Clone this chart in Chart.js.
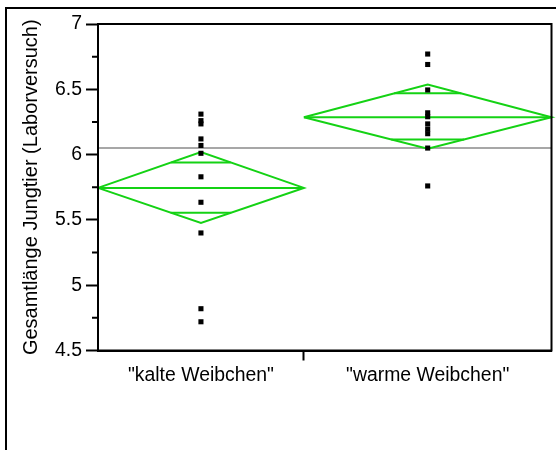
<!DOCTYPE html>
<html>
<head>
<meta charset="utf-8">
<script src="https://cdn.jsdelivr.net/npm/chart.js@4"></script>
<style>
  html, body { margin: 0; padding: 0; background: #fff; overflow: hidden; }
  .frame { position: absolute; left: 5px; top: 7px; width: 549px; height: 441px; border-top: 2px solid #000; border-left: 2px solid #000; }
  .wrap { position: absolute; left: 0; top: 0; width: 556px; height: 450px; }
</style>
</head>
<body>
<div class="frame"></div>
<div class="wrap"><canvas id="oneway-chart"></canvas></div>
<script>
const groups = ['"kalte Weibchen"', '"warme Weibchen"'];
const groupWidths = [0.454, 0.546];
const kalteValues = [6.31, 6.26, 6.235, 6.12, 6.07, 6.01, 5.83, 5.635, 5.40, 4.82, 4.72];
const warmeValues = [6.77, 6.69, 6.495, 6.32, 6.29, 6.235, 6.195, 6.16, 6.05, 5.76];
const groupMeans = [5.745, 6.286];
const ciUpper = [6.019, 6.537];
const ciLower = [5.476, 6.045];
const overlapUpper = [5.94, 6.469];
const overlapLower = [5.555, 6.116];
const grandMean = 6.05;
const yTicks = [4.5, 5, 5.5, 6, 6.5, 7];
const yMinorTicks = [4.75, 5.25, 5.75, 6.25, 6.75];

const green = '#14d214';
Chart.defaults.font.family = '"Liberation Sans", Arial, sans-serif';
Chart.defaults.font.size = 19.4;
Chart.defaults.color = '#000';

// group bounds on a 0..1 x scale
const starts = groupWidths.map((w, i) => groupWidths.slice(0, i).reduce((a, b) => a + b, 0));
const centers = starts.map((s, i) => s + groupWidths[i] / 2);

const datasets = [];
datasets.push({
  data: [{ x: 0, y: grandMean }, { x: 1, y: grandMean }],
  borderColor: '#8a8a8a', borderWidth: 1.5, order: 3,
});
[kalteValues, warmeValues].forEach((vals, i) => {
  const x0 = starts[i], x1 = starts[i] + groupWidths[i], xc = centers[i], half = groupWidths[i] / 2;
  const m = groupMeans[i];
  datasets.push({
    data: [{ x: x0, y: m }, { x: xc, y: ciUpper[i] }, { x: x1, y: m }, { x: xc, y: ciLower[i] }, { x: x0, y: m }],
    borderColor: green, borderWidth: 2, order: 2,
  });
  datasets.push({ data: [{ x: x0, y: m }, { x: x1, y: m }], borderColor: green, borderWidth: 2, order: 2 });
  const du = half * (ciUpper[i] - overlapUpper[i]) / (ciUpper[i] - m);
  const dl = half * (overlapLower[i] - ciLower[i]) / (m - ciLower[i]);
  datasets.push({ data: [{ x: xc - du, y: overlapUpper[i] }, { x: xc + du, y: overlapUpper[i] }], borderColor: green, borderWidth: 2, order: 2 });
  datasets.push({ data: [{ x: xc - dl, y: overlapLower[i] }, { x: xc + dl, y: overlapLower[i] }], borderColor: green, borderWidth: 2, order: 2 });
  datasets.push({
    data: vals.map(v => ({ x: xc, y: v })),
    showLine: false, pointStyle: 'rect', pointRadius: 3.6, pointBorderWidth: 0,
    pointBackgroundColor: '#000', order: 1,
  });
});
datasets.forEach(d => {
  if (d.showLine !== false) { d.showLine = true; d.pointRadius = 0; d.fill = false; }
  d.clip = false;
});

const plotBox = {
  id: 'plotBox',
  afterDraw(chart) {
    const { ctx, chartArea: a, scales: { y } } = chart;
    ctx.save();
    ctx.strokeStyle = '#000';
    ctx.lineWidth = 2;
    ctx.strokeRect(a.left, a.top, a.right - a.left, a.bottom - a.top);
    ctx.beginPath();
    yMinorTicks.forEach(v => {
      const py = y.getPixelForValue(v);
      ctx.moveTo(a.left - 6, py);
      ctx.lineTo(a.left, py);
    });
    ctx.stroke();
    ctx.restore();
  },
};

const xLabels = [groups[0], '', groups[1]];

new Chart(document.getElementById('oneway-chart'), {
  type: 'scatter',
  data: { datasets },
  plugins: [plotBox],
  options: {
    maintainAspectRatio: false,
    animation: false,
    layout: { padding: { top: 24, right: 4.5, left: 0, bottom: 0 } },
    plugins: { legend: { display: false }, tooltip: { enabled: false } },
    scales: {
      x: {
        type: 'linear', min: 0, max: 1,
        afterFit: (s) => { s.height = 99.5; },
        afterBuildTicks: (s) => { s.ticks = [centers[0], starts[1], centers[1]].map(v => ({ value: v })); },
        grid: {
          drawOnChartArea: false, tickLength: 10, tickWidth: 2,
          tickColor: (c) => (c.index === 1 ? '#000' : 'rgba(0,0,0,0)'),
        },
        border: { color: '#000', width: 2 },
        ticks: { autoSkip: false, maxRotation: 0, padding: 4, callback: (v, i) => xLabels[i] },
      },
      y: {
        min: 4.5, max: 7,
        afterFit: (s) => { s.width = 98; },
        afterBuildTicks: (s) => { s.ticks = yTicks.map(v => ({ value: v })); },
        grid: { drawOnChartArea: false, tickLength: 12, tickWidth: 2, tickColor: '#000' },
        border: { color: '#000', width: 2 },
        ticks: { padding: 4, callback: (v) => String(v) },
        title: {
          display: true,
          text: 'Gesamtlänge Jungtier (Laborversuch)',
          font: { size: 20 },
          padding: { top: 19, bottom: 0 },
        },
      },
    },
  },
});
</script>
</body>
</html>
